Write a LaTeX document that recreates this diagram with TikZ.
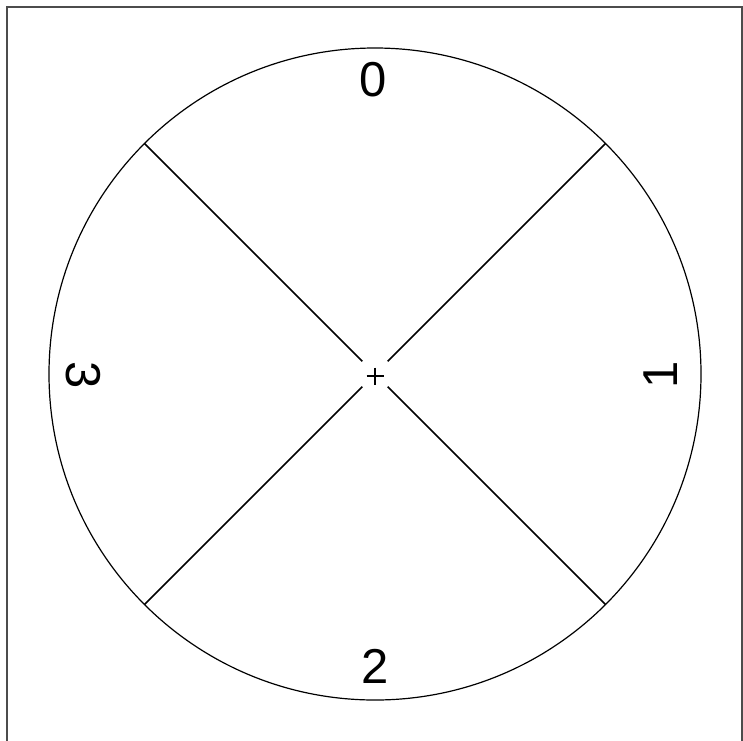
\documentclass[tikz,border=0pt]{standalone}
\usepackage{fontspec}
\setmainfont{Liberation Sans}
\usetikzlibrary{calc}
\tikzset{
  frameline/.style={draw=black!70, line width=1pt},
  ring/.style={circle, draw, line width=0.6pt, inner sep=0pt, outer sep=0pt, minimum size=326pt},
  spoke/.style={draw, line width=0.75pt},
  marker/.style={draw, line width=1pt},
  sector/.style={font=\fontsize{24.5}{28}\selectfont, inner sep=0pt},
}
\begin{document}
\begin{tikzpicture}[x=0.5pt, y=-0.5pt]
  \useasboundingbox (0,0) rectangle (743,740);
  \draw[frameline] (7,742) |- (742,7) -- (742,742);

  \coordinate (c) at (375,374);
  \node[ring] (circ) at (c) {};

  \draw[spoke] (circ.135) -- ($(c)!9pt!(circ.135)$);
  \draw[spoke] (circ.45) -- ($(c)!9pt!(circ.45)$);
  \draw[spoke] (circ.225) -- ($(c)!9pt!(circ.225)$);
  \draw[spoke] (circ.-45) -- ($(c)!9pt!(circ.-45)$);

  % centre mark
  \coordinate (mk) at (375,376);
  \draw[marker] ($(mk)+(-8.5,0)$) -- ($(mk)+(8.5,0)$);
  \draw[marker] ($(mk)+(0,-8.5)$) -- ($(mk)+(0,8.5)$);

  \node[sector] (s0) at (373,80) {0};
  \node[sector, rotate=90] (s1) at (661,375) {1};
  \node[sector] (s2) at (375,666) {2};
  \node[sector, rotate=-90] (s3) at (83,375) {3};
\end{tikzpicture}
\end{document}
